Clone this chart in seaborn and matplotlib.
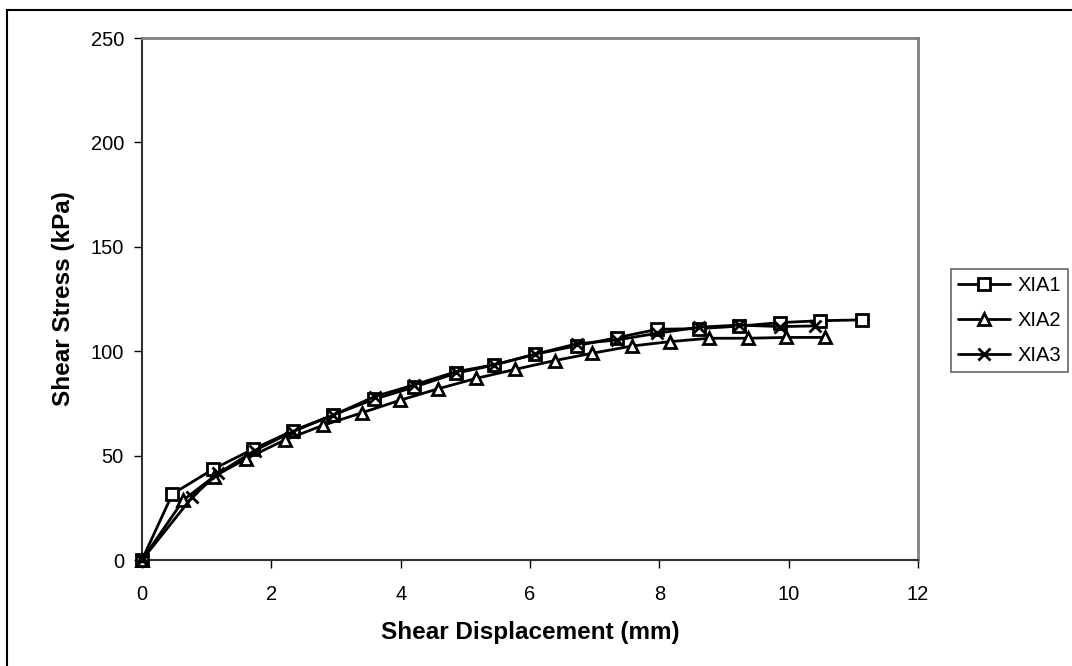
import matplotlib
matplotlib.use("Agg")
import matplotlib.pyplot as plt
import matplotlib.patches as mpatches
import seaborn as sns
import pandas as pd

# Data
xia1_x = [0, 0.47, 1.10, 1.71, 2.34, 2.96, 3.59, 4.20, 4.86, 5.45, 6.07, 6.72, 7.35, 7.97, 8.61, 9.23, 9.87, 10.49, 11.13]
xia1_y = [0, 31.6, 43.5, 53, 62, 69.5, 77, 82.7, 89.5, 93.4, 98.5, 102.6, 106.5, 110.5, 110.8, 112, 113.7, 114.6, 115]

xia2_x = [0, 0.64, 1.11, 1.61, 2.21, 2.80, 3.40, 3.99, 4.58, 5.17, 5.77, 6.38, 6.96, 7.58, 8.17, 8.77, 9.37, 9.96, 10.56]
xia2_y = [0, 28.7, 39.9, 48.5, 57.5, 64.5, 70.5, 76.5, 82, 87, 91.3, 95.5, 99, 102.5, 104.6, 106.2, 106.2, 106.6, 106.6]

xia3_x = [0, 0.78, 1.18, 1.74, 2.33, 2.96, 3.60, 4.20, 4.86, 5.45, 6.07, 6.72, 7.35, 7.97, 8.61, 9.23, 9.87, 10.41]
xia3_y = [0, 30.3, 41.5, 52.4, 61.5, 69.4, 78.3, 83.8, 90.2, 93.5, 98.5, 103.5, 105.4, 108.6, 111.5, 112.5, 111.8, 112.1]

series_names = ["XIA1", "XIA2", "XIA3"]
x_ticks = [0, 2, 4, 6, 8, 10, 12]
y_ticks = [0, 50, 100, 150, 200, 250]

sns.set_theme(style="white")
plt.rcParams["font.family"] = ["Liberation Sans", "DejaVu Sans"]
plt.rcParams["text.color"] = "black"
plt.rcParams["axes.labelcolor"] = "black"

fig = plt.figure(figsize=(10.72, 6.66), dpi=100)
ax = fig.add_axes([142 / 1072, 1 - 560 / 666, (918 - 142) / 1072, (560 - 38) / 666])

frames = [
    pd.DataFrame({"x": xia1_x, "y": xia1_y}),
    pd.DataFrame({"x": xia2_x, "y": xia2_y}),
    pd.DataFrame({"x": xia3_x, "y": xia3_y}),
]
markers = ["s", "^", "x"]

for df, name, mk in zip(frames, series_names, markers):
    sns.lineplot(data=df, x="x", y="y", ax=ax, sort=False, color="black",
                 linewidth=2, marker=mk, markersize=12,
                 markerfacecolor="white", markeredgecolor="black",
                 markeredgewidth=2, clip_on=False, zorder=3, label=name)

ax.set_xlim(0, 12)
ax.set_ylim(0, 250)
ax.set_xticks(x_ticks)
ax.set_yticks(y_ticks)
ax.tick_params(axis="both", which="both", direction="out", length=6, width=1,
               color="black", labelsize=14.5, labelcolor="black",
               bottom=True, left=True)
ax.tick_params(axis="x", pad=12)
ax.tick_params(axis="y", pad=7)
ax.set_xlabel("Shear Displacement (mm)", fontsize=17.5, fontweight="bold",
              color="black", labelpad=12)
ax.set_ylabel("Shear Stress (kPa)", fontsize=17.5, fontweight="bold", color="black")
ax.yaxis.set_label_coords(-(142 - 75) / 776, 0.5)

for side in ["top", "right"]:
    ax.spines[side].set_color("#808080")
    ax.spines[side].set_linewidth(2)
for side in ["left", "bottom"]:
    ax.spines[side].set_color("#303030")
    ax.spines[side].set_linewidth(1.5)

# legend
h, l = ax.get_legend_handles_labels()
for hh in h:
    hh.set_markersize(9)
    hh.set_markeredgewidth(2)
leg = ax.legend(h, l, loc="upper left", bbox_to_anchor=(951 / 1072, 1 - 269 / 666),
                bbox_transform=fig.transFigure, fontsize=14.5, frameon=True,
                fancybox=False, borderpad=0.35, handlelength=2.6, handletextpad=0.35,
                labelspacing=0.8, borderaxespad=0)
leg.get_frame().set_edgecolor("#404040")
leg.get_frame().set_linewidth(1.2)

# outer chart border (left/top visible only)
border = mpatches.Rectangle((7 / 1072, -0.1), 1.2, 1.1 - 10 / 666,
                            transform=fig.transFigure, fill=False,
                            edgecolor="black", linewidth=1.5)
fig.add_artist(border)

fig.savefig("out.png", dpi=100)
